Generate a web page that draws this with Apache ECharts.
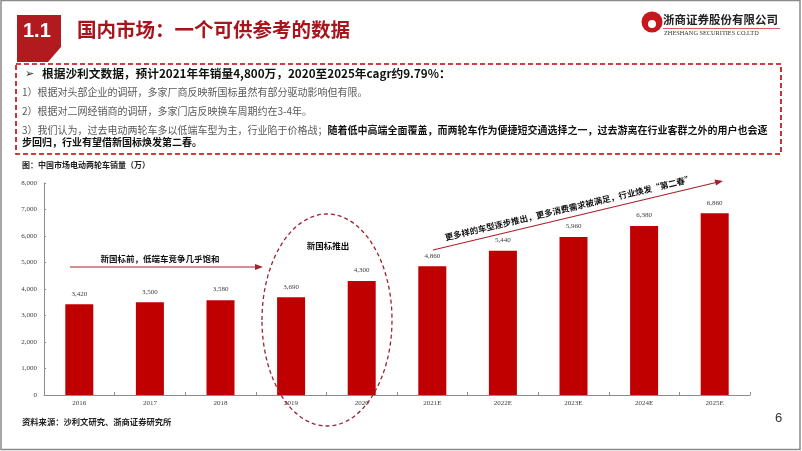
<!DOCTYPE html>
<html>
<head>
<meta charset="utf-8">
<script src="https://cdn.jsdelivr.net/npm/echarts@6/dist/echarts.min.js"></script>
<style>
html,body{margin:0;padding:0;background:#fff;}
#main{width:802px;height:451px;}
</style>
</head>
<body>
<div id="main"></div>
<script>
var years = ['2016', '2017', '2018', '2019', '2020', '2021E', '2022E', '2023E', '2024E', '2025E'];
var sales = [3420, 3500, 3580, 3690, 4300, 4860, 5440, 5960, 6380, 6860];
var yMax = 8000;
var yStep = 1000;

var cjk = '"Noto Sans CJK SC", "Noto Sans", sans-serif';
var serif = '"Liberation Serif", "DejaVu Serif", serif';
var red = '#C00000';
var darkRed = '#A8202A';

function fmt(v) {
	return String(v).replace(/\B(?=(\d{3})+(?!\d))/g, ',');
}

var chart = echarts.init(document.getElementById('main'));

var option = {
	backgroundColor: '#fff',
	animation: false,
	grid: { left: 44, right: 52, top: 183, bottom: 56 },
	xAxis: {
		type: 'category',
		data: years,
		axisLine: { lineStyle: { color: '#8c8c8c', width: 1 } },
		axisTick: { show: true, inside: true, length: 3, lineStyle: { color: '#8c8c8c' } },
		axisLabel: { fontFamily: serif, fontSize: 7, color: '#404040', margin: 5 }
	},
	yAxis: {
		type: 'value',
		min: 0,
		max: yMax,
		interval: yStep,
		axisLine: { show: true, lineStyle: { color: '#8c8c8c', width: 1 } },
		axisTick: { show: true, inside: true, length: 2, lineStyle: { color: '#8c8c8c' } },
		splitLine: { show: false },
		axisLabel: {
			fontFamily: serif, fontSize: 7, color: '#404040', margin: 7,
			formatter: function (v) { return fmt(v); }
		}
	},
	series: [{
		type: 'bar',
		data: sales,
		barWidth: 28,
		itemStyle: { color: red },
		label: {
			show: true,
			position: 'top',
			distance: 7,
			fontFamily: serif,
			fontSize: 7,
			color: '#404040',
			formatter: function (p) { return fmt(p.value); }
		}
	}],
	graphic: [
		// slide frame
		{ type: 'rect', shape: { x: 1, y: 0.5, width: 799, height: 449 },
			style: { fill: 'none', stroke: '#8a8a8a', lineWidth: 1.5 }, z: 100 },
		// section badge
		{ type: 'polygon', shape: { points: [[17, 15], [61, 15], [61, 47], [48, 62], [17, 62]] },
			style: { fill: '#B11A1F' } },
		{ type: 'text', left: 23, top: 21,
			style: { text: '1.1', font: 'bold 20px "Liberation Sans", Arial, sans-serif', fill: '#fff' } },
		{ type: 'text', left: 77, top: 20,
			style: { text: '国内市场：一个可供参考的数据', font: 'bold 19.5px ' + cjk, fill: '#A8141C' } },
		// logo
		{ type: 'circle', shape: { cx: 652, cy: 22, r: 10.5 }, style: { fill: '#C8161D' } },
		{ type: 'circle', shape: { cx: 652, cy: 24, r: 4 }, style: { fill: '#fff' } },
		{ type: 'text', left: 663, top: 14,
			style: { text: '浙商证券股份有限公司', font: 'bold 11.5px ' + cjk, fill: '#222' } },
		{ type: 'line', shape: { x1: 663, y1: 28.5, x2: 780, y2: 28.5 },
			style: { stroke: '#D9303A', lineWidth: 0.8 } },
		{ type: 'text', left: 664, top: 30,
			style: { text: 'ZHESHANG SECURITIES CO.LTD', font: '6.3px ' + serif, fill: '#333' } },
		// dashed text box
		{ type: 'rect', shape: { x: 16, y: 64, width: 765, height: 90 },
			style: { fill: 'none', stroke: red, lineWidth: 1.6, lineDash: [5, 3] } },
		{ type: 'text', left: 25, top: 69,
			style: { text: '➢', font: '11px "DejaVu Sans", sans-serif', fill: '#222' } },
		{ type: 'text', left: 42, top: 68,
			style: { text: '根据沙利文数据，预计2021年年销量4,800万，2020至2025年cagr约9.79%：',
				font: 'bold 11.7px ' + cjk, fill: '#111' } },
		{ type: 'text', left: 22, top: 87,
			style: { text: '1）根据对头部企业的调研，多家厂商反映新国标虽然有部分驱动影响但有限。',
				font: '10px ' + cjk, fill: '#595959' } },
		{ type: 'text', left: 22, top: 106,
			style: { text: '2）根据对二网经销商的调研，多家门店反映换车周期约在3-4年。',
				font: '10px ' + cjk, fill: '#595959' } },
		{ type: 'text', left: 22, top: 125,
			style: {
				text: '{n|3）我们认为，过去电动两轮车多以低端车型为主，行业陷于价格战；}{b|随着低中高端全面覆盖，而两轮车作为便捷短交通选择之一，过去游离在行业客群之外的用户也会逐}',
				rich: {
					n: { font: '10px ' + cjk, fill: '#595959' },
					b: { font: 'bold 10px ' + cjk, fill: '#111' }
				}
			} },
		{ type: 'text', left: 22, top: 137,
			style: { text: '步回归，行业有望借新国标焕发第二春。', font: 'bold 10px ' + cjk, fill: '#111' } },
		// chart title and source
		{ type: 'text', left: 22, top: 161,
			style: { text: '图：中国市场电动两轮车销量（万）', font: 'bold 8px ' + cjk, fill: '#222' } },
		{ type: 'text', left: 22, top: 418,
			style: { text: '资料来源：沙利文研究、浙商证券研究所', font: 'bold 8.3px ' + cjk, fill: '#222' } },
		{ type: 'text', left: 775, top: 412,
			style: { text: '6', font: '13px "Liberation Sans", sans-serif', fill: '#333' } },
		// annotation: before new standard
		{ type: 'text', x: 160, y: 259,
			style: { text: '新国标前，低端车竞争几乎饱和', font: 'bold 8.5px ' + cjk, fill: '#111',
				textAlign: 'center', textVerticalAlign: 'middle' } },
		{ type: 'line', shape: { x1: 70, y1: 267, x2: 258, y2: 267 },
			style: { stroke: darkRed, lineWidth: 1.2 } },
		{ type: 'polygon', shape: { points: [[263, 267], [255, 264], [255, 270]] },
			style: { fill: darkRed } },
		// annotation: new standard ellipse
		{ type: 'ellipse', shape: { cx: 327, cy: 320, rx: 65, ry: 106 },
			style: { fill: 'none', stroke: '#9B2335', lineWidth: 1.3, lineDash: [4, 3] }, z: 10 },
		{ type: 'text', x: 328, y: 246,
			style: { text: '新国标推出', font: 'bold 8.5px ' + cjk, fill: '#111',
				textAlign: 'center', textVerticalAlign: 'middle' } },
		// annotation: growth arrow
		{ type: 'line', shape: { x1: 433, y1: 250, x2: 716, y2: 182.5 },
			style: { stroke: darkRed, lineWidth: 1.2 } },
		{ type: 'polygon', shape: { points: [[723, 181], [714.5, 179.5], [716, 185.5]] },
			style: { fill: darkRed } },
		{ type: 'text', x: 569, y: 208, rotation: 13.4 * Math.PI / 180,
			style: { text: '更多样的车型逐步推出，更多消费需求被满足，行业焕发“第二春”',
				font: 'bold 8.5px ' + cjk, fill: '#111',
				textAlign: 'center', textVerticalAlign: 'middle' } }
	]
};

chart.setOption(option);
</script>
</body>
</html>
